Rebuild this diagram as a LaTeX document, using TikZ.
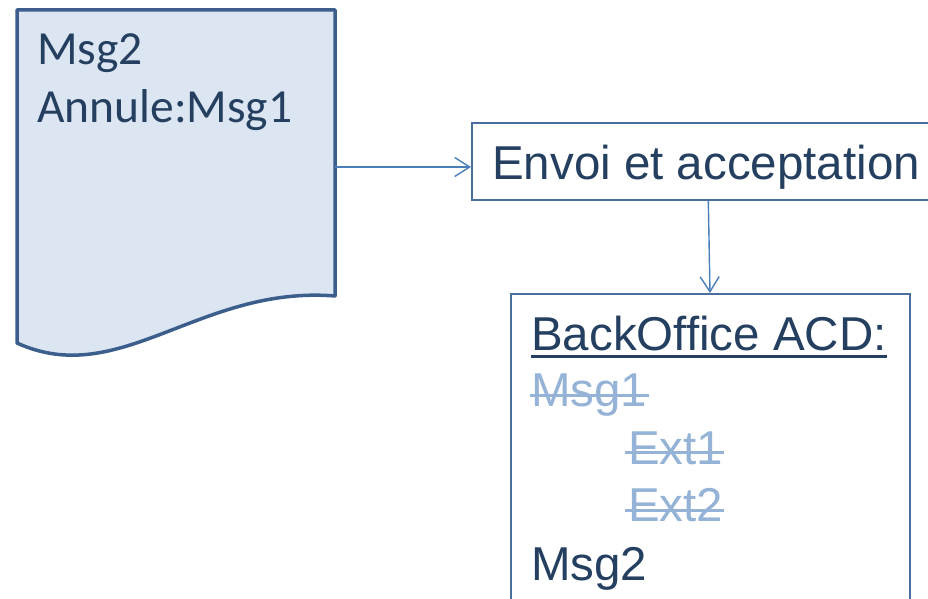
\documentclass[tikz,border=0pt]{standalone}
\usepackage{fontspec}
\setmainfont{Liberation Sans}
\newfontfamily\calfont{Carlito}
\usetikzlibrary{arrows.meta}
\definecolor{darktext}{HTML}{243F60}
\definecolor{docfill}{HTML}{DCE6F2}
\definecolor{docline}{HTML}{3B5E8C}
\definecolor{boxline}{HTML}{4A6E9E}
\definecolor{arrline}{HTML}{4A7EBB}
\definecolor{struck}{HTML}{95B3D7}
\tikzset{
  big/.style={inner sep=0pt, anchor=base west, font=\fontsize{47.5}{57}\selectfont, text=darktext},
  calbig/.style={big, font=\calfont\fontsize{47.5}{57}\selectfont},
  faded/.style={big, text=struck},
  boxshape/.style={draw=boxline, line width=1.8pt, fill=white, inner sep=0pt, anchor=north west},
  arr/.style={draw=arrline, line width=1.4pt, -{Straight Barb[length=15pt,width=19pt,line width=1.4pt]}},
  strikeline/.style={draw=struck, line width=3pt},
}
\begin{document}
\begin{tikzpicture}[x=1pt,y=-1pt]
\useasboundingbox (0,0) rectangle (928,599);
\clip (0,0) rectangle (928,599);
% document shape
\draw[fill=docfill, draw=docline, line width=3.5pt, line join=round]
  (17,10) -- (335,10) -- (335,296)
  .. controls (200,285) and (120,390) .. (17,343) -- cycle;
\node[calbig] (d1) at (37,65) {Msg2};
\node[calbig] (d2) at (37,122) {Annule:Msg1};
\coordinate (docR) at (335,167);
% Envoi box
\node[boxshape, minimum width=500pt, minimum height=77pt] (envoi) at (471,122) {};
\node[big] (envoitxt) at (492,179) {Envoi et acceptation};
% BackOffice box
\node[boxshape, minimum width=399pt, minimum height=340pt] (bo) at (510,293) {};
\node[big] (bot) at (531,350) {BackOffice ACD:};
\draw[darktext, line width=3pt] ([yshift=-6.7pt]bot.base west) -- ([yshift=-6.7pt]bot.base east);
\node[faded] (m1) at (531,406.7) {Msg1};
\draw[strikeline] ([yshift=11.7pt,xshift=-1pt]m1.base west) -- ([yshift=11.7pt,xshift=1pt]m1.base east);
\node[faded] (e1) at (628,464) {Ext1};
\draw[strikeline] ([yshift=11.7pt,xshift=-3pt]e1.base west) -- ([yshift=11.7pt,xshift=1pt]e1.base east);
\node[faded] (e2) at (628,521.7) {Ext2};
\draw[strikeline] ([yshift=11.7pt,xshift=-3pt]e2.base west) -- ([yshift=11.7pt,xshift=1pt]e2.base east);
\node[big] (m2) at (531,580) {Msg2};
% connectors
\draw[arr] (docR) -- (docR -| envoi.west);
\draw[arr] ([xshift=237.3pt]envoi.south west) -- ([xshift=200pt]bo.north west);
\end{tikzpicture}
\end{document}
